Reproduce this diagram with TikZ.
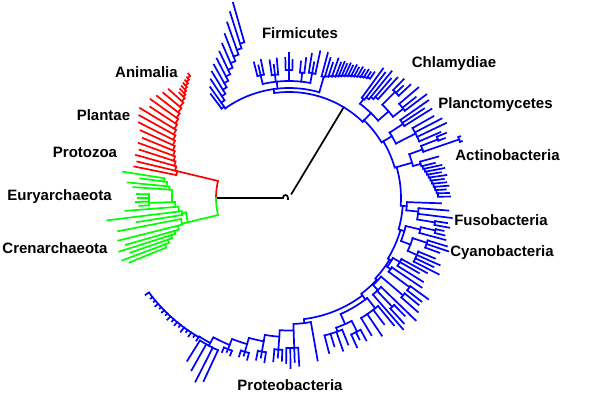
\documentclass[tikz,border=0pt]{standalone}
\usepackage{fontspec}
\setmainfont{Liberation Sans}
\tikzset{
  tree/.style={line width=1.7pt, line cap=rect},
  euk/.style={tree, red},
  arch/.style={tree, green},
  bact/.style={tree, blue},
  root/.style={tree, black},
  % clade name
  phylum/.style={font=\fontsize{15}{18}\selectfont\bfseries, anchor=base, inner sep=0pt}
}
% internal node: arc at radius #1, children as angle/radius
\newcommand\nd[2]{%
  \foreach \na/\nr [count=\kk] in {#2}{%
    \draw (\na:#1pt) -- (\na:\nr pt);
    \ifnum\kk=1 \xdef\ndfirst{\na}\fi
    \xdef\ndlast{\na}}%
  \draw (\ndfirst:#1pt) arc[start angle=\ndfirst,end angle=\ndlast,radius=#1pt];}
% ladder of leaves: first radius, radius step, leaves as angle/tip
\newcommand\catl[3]{%
  \foreach \na/\nt [count=\kk from 0, remember=\na as \pa] in {#3}{%
    \ifnum\kk=0
      \draw (\na:#1pt) -- (\na:\nt pt);
    \else
      \pgfmathsetmacro\rin{#1+(\kk-1)*#2}%
      \draw (\pa:\rin pt) arc[start angle=\pa,end angle=\na,radius=\rin pt] -- (\na:\nt pt);
    \fi}}

\begin{document}
\begin{tikzpicture}[x=1pt,y=1pt]
  \useasboundingbox (-289,-220) rectangle (311,198);

  \begin{scope}[root]
    \draw (180:73pt) -- (-6,0) .. controls (-6,4) and (-1,4) .. (-1,0) -- (-1,-1);
    \draw (58.9:5pt) -- (58.9:106pt);
  \end{scope}

  % eukaryotes
  \begin{scope}[euk]
    \draw (180:73pt) arc[start angle=180,end angle=166.5,radius=73pt] -- (166.5:115pt);
    \catl{115}{2.1}{168.5/158, 166.5/156, 164.3/159, 162.1/157, 159.9/160, 157.7/158,
      155.5/163, 153.3/168, 151.1/171, 148.9/174, 146.7/166, 144.5/170,
      142.3/167, 140.1/164, 137.9/162, 136.2/152, 135/154,
      133.8/155, 132.6/156, 131.4/157, 130.2/158, 129/160}
  \end{scope}

  % archaea
  \begin{scope}[arch]
    \draw (180:73pt) arc[start angle=180,end angle=193.5,radius=73pt] -- (193.5:104pt);
    \nd{104}{188/108, 193.5/110}
    \catl{108}{3}{189/154, 187/183, 184.5/164, 182/140, 176/156, 174.5/162, 172.5/150, 171/168}
    \nd{140}{183/150, 181.5/153, 180/151, 178.5/152}
    \catl{110}{4.5}{191/174, 194/176, 196/170, 197.5/178, 199/168, 200.5/178, 202/172}
  \end{scope}

  % bacteria
  \begin{scope}[bact]
    \nd{106}{98/110, 46/108}
    % firmicutes
    \nd{110}{125.4/112, 96/117, 74/126}
    \catl{112}{5}{127/130, 125.4/136, 123.4/142, 121.4/148, 119.4/153, 117.4/157,
      115.4/162, 113.4/168, 111.4/176, 109.4/186, 107.6/195, 106/203}
    \nd{117}{103/126, 96.5/124, 90/128, 84/126, 79.5/127}
    \nd{126}{104.5/140, 103/136, 101.5/141}
    \nd{124}{98/139, 96.5/134, 95/140}
    \nd{128}{91.5/140, 90/145, 88.5/138}
    \nd{126}{85/137, 83/141}
    \nd{127}{81/146, 79.5/138, 78/150}
    \catl{126}{1.3}{75/150, 73.5/146, 72/142, 70.5/148, 69/145, 67.8/147, 66.6/146, 65.4/148,
      64.2/147, 63/149, 61.8/148, 60.6/150, 59.4/149, 58.2/151, 57/150, 55.8/152}
    % backbone
    \catl{108}{2}{46/118, 31/120, 16/128, -4/118, -16/120, -31.5/120, -43/121, -53/127, -83/126}
    % chlamydiae
    \nd{118}{53/124, 41/132}
    \catl{124}{3}{54/160, 52.5/158, 51/163, 49.5/157, 48/162}
    \nd{132}{45/150, 38/145}
    \nd{150}{46/165, 44.5/160, 43/166}
    \nd{145}{40.5/170, 38.5/162, 37/172}
    % planctomycetes
    \nd{120}{33/136, 27/142}
    \nd{136}{35/170, 33.5/162, 32/168}
    \nd{142}{29.5/166, 27.5/172, 25.5/174, 23.5/165}
    % actinobacteria
    \nd{128}{20/142, 14.5/136}
    \nd{142}{21.5/160, 19/180}
    \nd{160}{22.5/170, 21/167}
    \nd{180}{19.8/182, 18.2/182}
    \catl{136}{1.3}{15.5/155, 13.5/150, 12.2/156, 10.9/158, 9.6/154, 8.3/159, 7/156, 5.7/158,
      4.4/160, 3.1/157, 1.8/160, 0.5/161}
    % fusobacteria
    \nd{118}{-2/152, -6/130}
    \nd{130}{-4.5/160, -7/164, -9.5/148}
    \nd{148}{-9/160, -10.5/163}
    % cyanobacteria
    \nd{120}{-13.5/135, -21/130}
    \nd{135}{-12.5/150, -15/162}
    \nd{150}{-12/158, -13.5/160}
    \nd{130}{-18/145, -24/140}
    \nd{145}{-17/165, -18.5/168, -20/160}
    \nd{140}{-22.5/158, -24/165, -25.5/160, -27/168}
    % proteobacteria
    \nd{120}{-30/128, -35/124}
    \nd{128}{-28.5/157, -30/150, -32/158}
    \nd{124}{-34/160, -36.5/150}
    \nd{150}{-36/172, -38/168}
    \nd{121}{-40.5/150, -46/128}
    \nd{150}{-39.5/168, -41.5/172}
    \nd{128}{-44/176, -46.5/150, -49/174}
    \nd{150}{-45.5/165, -47.5/170}
    \nd{127}{-52/140, -66/138}
    \nd{140}{-50.5/165, -53/158, -56/166, -59/160}
    \nd{138}{-63/150, -70/142}
    \nd{150}{-61.5/162, -63.5/158, -65.5/164}
    \nd{142}{-68/158, -70.5/162, -73/155, -75.5/160}
    \catl{126}{6.5}{-80/165, -88/150, -94/152, -100/156, -106/160, -112/163, -118.5/168, -123/166}
    \nd{150}{-86.5/168, -88/164, -89.5/170, -91/165}
    \nd{152}{-92.5/163, -94/160, -95.5/164}
    \nd{156}{-98.5/166, -100/162, -101.5/165}
    \nd{160}{-104.5/167, -106/164, -107.5/166}
    \nd{163}{-110.5/168, -112/166, -113.5/168}
    \nd{168}{-115/202, -117/206, -119.5/198, -122/192}
    \catl{166}{0.2}{-123/170, -124.5/168.5, -126/171, -127.5/169, -129/172, -130.5/169.5,
      -132/171, -133.5/170, -135/172, -136.5/170, -138/171, -139.5/170, -141/172,
      -142.5/170.5, -144/171, -146/173}
  \end{scope}

  \node[phylum] (firmicutes) at (11,159) {Firmicutes};
  \node[phylum] (chlamydiae) at (165,130) {Chlamydiae};
  \node[phylum] (plancto) at (206.5,90) {Planctomycetes};
  \node[phylum] (actino) at (218.5,38) {Actinobacteria};
  \node[phylum] (fuso) at (212,-27) {Fusobacteria};
  \node[phylum] (cyano) at (213,-58) {Cyanobacteria};
  \node[phylum] (proteo) at (1,-192) {Proteobacteria};
  \node[phylum] (animalia) at (-142.5,121) {Animalia};
  \node[phylum] (plantae) at (-185.5,78) {Plantae};
  \node[phylum] (protozoa) at (-204,41) {Protozoa};
  \node[phylum] (eury) at (-229.5,-2.5) {Euryarchaeota};
  \node[phylum] (cren) at (-234,-55) {Crenarchaeota};
\end{tikzpicture}
\end{document}
